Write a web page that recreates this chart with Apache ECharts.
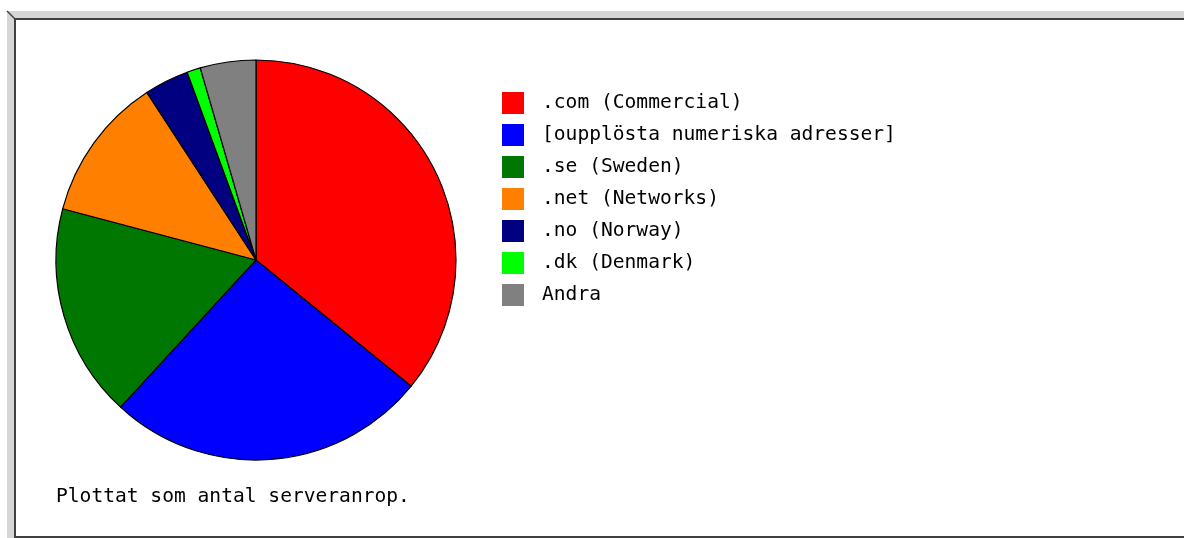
<!DOCTYPE html>
<html><head><meta charset="utf-8">
<script src="https://cdn.jsdelivr.net/npm/echarts@6/dist/echarts.min.js"></script>
<style>html,body{margin:0;padding:0;background:#fff;}#c{width:1184px;height:538px;}</style>
</head><body><div id="c"></div>
<script>
const categories = ['.com (Commercial)', '[oupplösta numeriska adresser]', '.se (Sweden)', '.net (Networks)', '.no (Norway)', '.dk (Denmark)', 'Andra'];
const values = [359, 260, 173, 117, 36, 11, 45];
const colors = ['#ff0000', '#0000ff', '#007700', '#ff8000', '#000080', '#00ff00', '#808080'];
const note = 'Plottat som antal serveranrop.';

const chart = echarts.init(document.getElementById('c'), null, {renderer: 'canvas'});
const font = '"DejaVu Sans Mono", "Liberation Mono", monospace';
chart.setOption({
  animation: false,
  color: colors,
  legend: {
    orient: 'vertical', left: 502, top: 92, padding: 0,
    icon: 'rect', itemWidth: 22, itemHeight: 22, itemGap: 10,
    selectedMode: false,
    itemStyle: {borderWidth: 0},
    textStyle: {fontFamily: font, fontSize: 19.6, color: '#000', padding: [0, 0, 0, 13], lineHeight: 22}
  },
  graphic: [
    {type: 'rect', shape: {x: 7, y: 11, width: 1177, height: 7}, style: {fill: '#d6d6d6'}, silent: true},
    {type: 'rect', shape: {x: 7, y: 11, width: 7, height: 527}, style: {fill: '#d6d6d6'}, silent: true},
    {type: 'rect', shape: {x: 14, y: 18, width: 1170, height: 2}, style: {fill: '#404040'}, silent: true},
    {type: 'rect', shape: {x: 14, y: 18, width: 2, height: 520}, style: {fill: '#404040'}, silent: true},
    {type: 'rect', shape: {x: 14, y: 536, width: 1170, height: 2}, style: {fill: '#404040'}, silent: true},
    {type: 'line', shape: {x1: 7, y1: 11, x2: 15, y2: 19}, style: {stroke: '#404040', lineWidth: 1.5}, silent: true},
    {type: 'text', left: 56, top: 487, style: {text: note, font: '19.6px ' + font, fill: '#000'}, silent: true}
  ],
  series: [{
    type: 'pie',
    center: [256, 260],
    radius: 200,
    startAngle: 90,
    clockwise: true,
    label: {show: false},
    labelLine: {show: false},
    emphasis: {disabled: true},
    itemStyle: {borderColor: '#000', borderWidth: 1.2},
    data: categories.map((n, i) => ({name: n, value: values[i]}))
  }]
});
</script></body></html>
